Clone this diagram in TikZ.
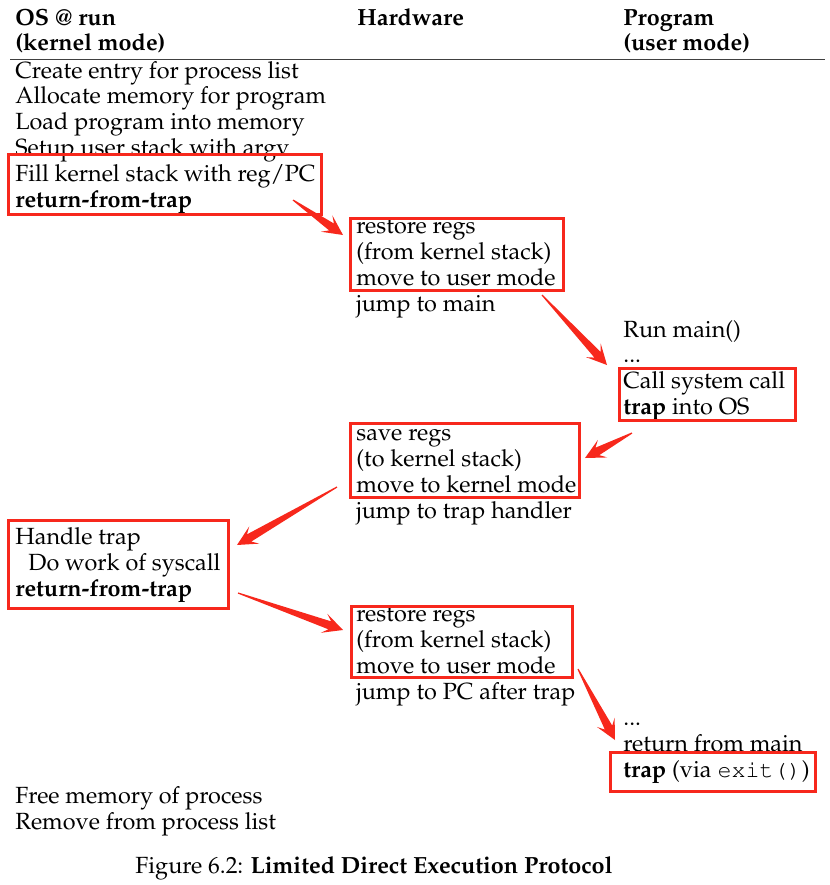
\documentclass[tikz,border=0pt]{standalone}
\usepackage[T1]{fontenc}
\usepackage{mathpazo}
\usepackage{courier}
\usetikzlibrary{calc}

\definecolor{markred}{HTML}{F7281C}
\newcommand\ldefont{\fontsize{11.7}{12.95}\selectfont}
\newcommand\redarrow[2]{%
  \path ($(#2)!7pt!(#1)$) coordinate (aj) ($(#2)!10pt!(#1)$) coordinate (ab);
  \fill[markred] ($(#1)!0.3pt!90:(#2)$) -- ($(aj)!2.1pt!90:(#2)$) -- ($(ab)!5pt!90:(#2)$)
    -- (#2) -- ($(ab)!5pt!-90:(#2)$) -- ($(aj)!2.1pt!-90:(#2)$) -- ($(#1)!0.3pt!-90:(#2)$) -- cycle;}

\begin{document}
\begin{tikzpicture}[x=0.5pt,y=-0.5pt,
    redbox/.style={draw=markred,line width=1.5pt}]
  \useasboundingbox (0,0) rectangle (830,885);

  \begin{scope}[every node/.style={anchor=base west,inner sep=0pt,align=left,font=\ldefont}]
    \node (oshead) at (15,50.9) {\textbf{OS @ run}\\\textbf{(kernel mode)}};
    \node (hwhead) at (357,25) {\textbf{Hardware}};
    \node (pghead) at (623,50.9) {\textbf{Program}\\\textbf{(user mode)}};

    \node (create)   at (15,155.7)  {Create entry for process list\\Allocate memory for program\\Load program into memory\\Setup user stack with argv};
    \node (fill)     at (15,207.5)  {Fill kernel stack with reg/PC\\\textbf{return-from-trap}};
    \node (restore1) at (356,285.2) {restore regs\\(from kernel stack)\\move to user mode};
    \node (jmain)    at (356,311.1) {jump to main};
    \node (run)      at (623,362.9) {Run main()\\...};
    \node (call)     at (623,414.7) {Call system call\\\textbf{trap} into OS};
    \node (save)     at (356,492.4) {save regs\\(to kernel stack)\\move to kernel mode};
    \node (jhandler) at (356,518.3) {jump to trap handler};
    \node (handle)   at (15,596)    {Handle trap\\\hspace*{6.5pt}Do work of syscall\\\textbf{return-from-trap}};
    \node (restore2) at (356,673.7) {restore regs\\(from kernel stack)\\move to user mode};
    \node (jpc)      at (356,699.6) {jump to PC after trap};
    \node (retmain)  at (623,751.4) {...\\return from main};
    \node (exit)     at (623,777.3) {\textbf{trap} (via \texttt{exit()})};
    \node (free)     at (15,829.1)  {Free memory of process\\Remove from process list};
  \end{scope}

  \node[anchor=base,inner sep=0pt,font=\ldefont] (caption) at (374,873)
    {Figure 6.2: \textbf{Limited Direct Execution Protocol}};

  \draw[line width=0.5pt,black!75] (10,59) -- (825,59);

  \draw[redbox] ([shift={(-7,-53.5)}]fill.base west) rectangle ([shift={(306,6.5)}]fill.base west);
  \draw[redbox] ([shift={(-6,-67.2)}]restore1.base west) rectangle ([shift={(207,4.8)}]restore1.base west);
  \draw[redbox] ([shift={(-4,-46.7)}]call.base west) rectangle ([shift={(172,5.3)}]call.base west);
  \draw[redbox] ([shift={(-6,-69.4)}]save.base west) rectangle ([shift={(223,4.6)}]save.base west);
  \draw[redbox] ([shift={(-7,-76)}]handle.base west) rectangle ([shift={(213,12)}]handle.base west);
  \draw[redbox] ([shift={(-5,-67.7)}]restore2.base west) rectangle ([shift={(216,3.3)}]restore2.base west);
  \draw[redbox] ([shift={(-13,-25.3)}]exit.base west) rectangle ([shift={(192,13.7)}]exit.base west);

  \coordinate (a1t) at ([shift={(278,-7.5)}]fill.base west);
  \coordinate (a1h) at ([shift={(-13,-50.2)}]restore1.base west);
  \coordinate (a2t) at ([shift={(186,9.8)}]restore1.base west);
  \coordinate (a2h) at ([shift={(-16,2.1)}]run.base west);
  \coordinate (a3t) at ([shift={(9,18.3)}]call.base west);
  \coordinate (a3h) at ([shift={(229,-34.4)}]save.base west);
  \coordinate (a4t) at ([shift={(-19,-5.4)}]save.base west);
  \coordinate (a4h) at ([shift={(222,-51)}]handle.base west);
  \coordinate (a5t) at ([shift={(223,-3)}]handle.base west);
  \coordinate (a5h) at ([shift={(-13,-43.7)}]restore2.base west);
  \coordinate (a6t) at ([shift={(222,-4.7)}]restore2.base west);
  \coordinate (a6h) at ([shift={(-8,-11.4)}]retmain.base west);

  \redarrow{a1t}{a1h}
  \redarrow{a2t}{a2h}
  \redarrow{a3t}{a3h}
  \redarrow{a4t}{a4h}
  \redarrow{a5t}{a5h}
  \redarrow{a6t}{a6h}
\end{tikzpicture}
\end{document}
